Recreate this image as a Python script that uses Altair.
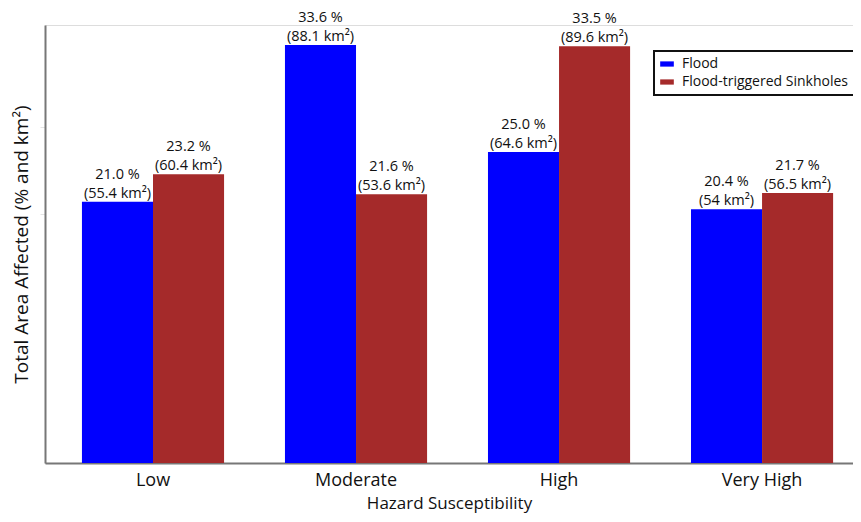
import altair as alt
import pandas as pd

categories = ["Low", "Moderate", "High", "Very High"]
series = ["Flood", "Flood-triggered Sinkholes"]
flood_pct = [21.0, 33.6, 25.0, 20.4]
flood_km = ["55.4", "88.1", "64.6", "54"]
sink_pct = [23.2, 21.6, 33.5, 21.7]
sink_km = ["60.4", "53.6", "89.6", "56.5"]

rows = []
for i, c in enumerate(categories):
    rows.append({"cat": c, "series": series[0], "pct": flood_pct[i],
                 "label": f"{flood_pct[i]:.1f} %\n({flood_km[i]} km²)"})
    rows.append({"cat": c, "series": series[1], "pct": sink_pct[i],
                 "label": f"{sink_pct[i]:.1f} %\n({sink_km[i]} km²)"})
df = pd.DataFrame(rows)

FONT = "Open Sans"

x = alt.X("cat:N", sort=categories, title="Hazard Susceptibility",
          scale=alt.Scale(paddingInner=0.3, paddingOuter=0.14, align=0.65),
          axis=alt.Axis(labelAngle=0, labelFontSize=18, titleFontSize=17,
                        labelColor="#111", titleColor="#111", ticks=False,
                        domainColor="#777", domainWidth=2, labelPadding=8,
                        titlePadding=6, labelFont=FONT, titleFont=FONT,
                        titleFontWeight="normal"))
xo = alt.XOffset("series:N", sort=series)
y = alt.Y("pct:Q", title="Total Area Affected (% and km²)",
          scale=alt.Scale(domain=[0, 35.2], nice=False),
          axis=alt.Axis(values=[20, 27], labels=False, grid=False,
                        tickColor="#e4e4e4", tickSize=5, domainColor="#777",
                        domainWidth=2, titleFontSize=19, titleColor="#111",
                        titleFont=FONT, titlePadding=8, titleFontWeight="normal"))

bars = alt.Chart(df).mark_bar().encode(
    x=x, xOffset=xo, y=y,
    color=alt.Color("series:N", sort=series,
                    scale=alt.Scale(domain=series, range=["#0000FF", "#A52A2A"]),
                    legend=alt.Legend(title=None, orient="none", legendX=609, legendY=26,
                                      strokeColor="#111", padding=6,
                                      symbolType="M-1.3,-0.5H1.3V0.5H-1.3Z",
                                      symbolSize=110, symbolStrokeWidth=0,
                                      labelFontSize=14, labelFont=FONT, labelColor="#111",
                                      rowPadding=4, labelOffset=8, fillColor="white",
                                      labelLimit=400)),
)

text = alt.Chart(df).mark_text(baseline="bottom", dy=-20, fontSize=14.5, font=FONT,
                               lineBreak="\n", lineHeight=19, color="#111").encode(
    x=alt.X("cat:N", sort=categories), xOffset=xo, y="pct:Q", text="label:N"
)

chart = alt.layer(bars, text).properties(
    width=808, height=438,
    padding={"left": 37, "top": 17, "right": 0, "bottom": 51},
    autosize=alt.AutoSizeParams(type="none"),
).configure_view(strokeWidth=0, stroke="transparent").configure(font=FONT).configure_legend(strokeWidth=2)

chart.save("out.html", embed_options={"renderer": "svg", "actions": False})
